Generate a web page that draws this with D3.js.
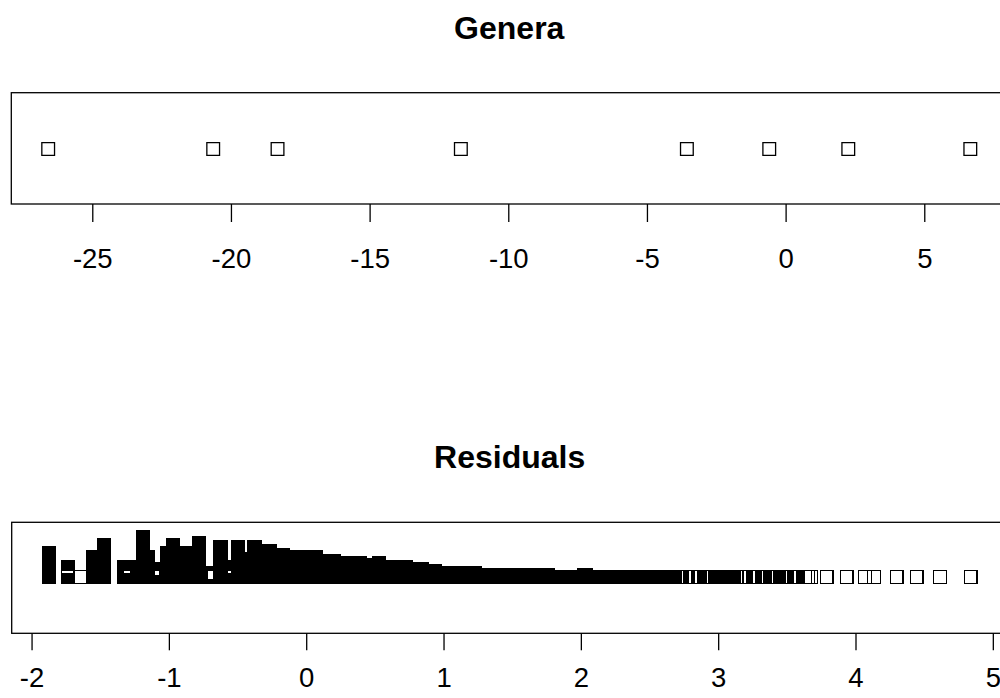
<!DOCTYPE html>
<html><head><meta charset="utf-8">
<script src="https://cdn.jsdelivr.net/npm/d3@7"></script>
<style>body{margin:0;background:#fff} svg{display:block}</style>
</head><body><svg id="chart" width="1000" height="698"></svg>
<script>
// ---------- data ----------
const generaValues = [-26.59, -20.64, -18.32, -11.71, -3.56, -0.59, 2.26, 6.66];
const generaTicks = [-25, -20, -15, -10, -5, 0, 5];
const residTicks = [-2, -1, 0, 1, 2, 3, 4, 5];
// groups of (near-)tied residuals: value range and number of stacked points
const residFrom = [-1.876, -1.736, -1.645, -1.554, -1.476, -1.326, -1.186, -1.153, -1.117, -1.015, -0.968, -0.883, -0.784, -0.676, -0.626, -0.563, -0.497, -0.432, -0.381, -0.274, -0.168, -0.068, 0.068, 0.200, 0.389, 0.527, 0.527, 0.728, 0.845, 0.935, 1.227, 1.760, 2.020,
  2.039, 2.705, 2.758, 2.807, 2.850, 2.899, 2.976, 3.134, 3.158, 3.227, 3.251, 3.287, 3.316, 3.361, 3.380, 3.462, 3.523, 3.555,
  3.634, 3.656, 3.676, 3.790, 3.936, 4.069, 4.135, 4.300, 4.446, 4.615, 4.839];
const residTo   = [-1.876, -1.736, -1.645, -1.554, -1.473, -1.286, -1.186, -1.153, -1.117, -1.015, -0.968, -0.883, -0.784, -0.676, -0.623, -0.563, -0.497, -0.432, -0.376, -0.267, -0.168, 0.068, 0.200, 0.389, 0.527, 0.529, 0.728, 0.845, 0.935, 1.227, 1.760, 2.020, 2.039,
  2.686, 2.739, 2.778, 2.831, 2.865, 2.957, 3.115, 3.140, 3.205, 3.232, 3.268, 3.298, 3.341, 3.361, 3.434, 3.504, 3.536, 3.574,
  3.634, 3.656, 3.676, 3.790, 3.936, 4.069, 4.135, 4.300, 4.446, 4.615, 4.839];
const residCount = [13, 6, 1, 11, 17, 6, 21, 11, 5, 13, 17, 13, 18, 3, 16, 6, 16, 10, 16, 14, 12, 11, 9, 8, 7, 8, 6, 5, 4, 3, 2, 1, 2,
  1, 1, 1, 1, 1, 1, 1, 1, 1, 1, 1, 1, 1, 1, 1, 1, 1, 1,
  1, 1, 1, 1, 1, 1, 1, 1, 1, 1, 1];

// ---------- layout ----------
const svg = d3.select("#chart");
const FONT = "'Liberation Sans', Arial, Helvetica, sans-serif";
const HALF = 6.35;     // half side of the square symbol (stroke centre)
const SW = 1.3;        // symbol line width
const STACK = 2.0;     // vertical offset between stacked points

function rPad(ext) { const r = ext[1] - ext[0]; return [ext[0] - 0.04 * r, ext[1] + 0.04 * r]; }

function panel(cfg) {
  const g = svg.append("g");
  const x = d3.scaleLinear().domain(rPad(cfg.extent)).range([cfg.left, cfg.right]);
  g.append("text").attr("x", (cfg.left + cfg.right) / 2).attr("y", cfg.titleY)
    .attr("text-anchor", "middle").attr("font-family", FONT).attr("font-weight", "bold")
    .attr("font-size", cfg.titleSize).attr("fill", "#000").text(cfg.title);
  const ax = d3.axisBottom(x).tickValues(cfg.ticks).tickSize(cfg.tickLen);
  const axg = g.append("g").attr("transform", `translate(0,${cfg.bottom})`).call(ax);
  axg.select(".domain").remove();
  axg.selectAll(".tick line").attr("stroke", "#000").attr("stroke-width", 1.3);
  axg.selectAll(".tick text").attr("font-family", FONT).attr("font-size", cfg.labelSize)
    .attr("fill", "#000").attr("y", cfg.labelBase - cfg.bottom).attr("dy", 0)
    .text(d => d < 0 ? "-" + Math.abs(d) : String(d));
  cfg.draw(g, x, cfg.yc);
  g.append("rect").attr("x", cfg.left).attr("y", cfg.top)
    .attr("width", cfg.right - cfg.left).attr("height", cfg.bottom - cfg.top)
    .attr("fill", "none").attr("stroke", "#000").attr("stroke-width", 1.3);
}

// union of open squares centred on every value of [from,to], stacked `count` high
function groupPath(a, b, yc, count) {
  const o = HALF + SW / 2, i = HALF - SW / 2, rise = (count - 1) * STACK;
  let p = `M${a - o},${yc - o - rise}H${b + o}V${yc + o}H${a - o}Z`;
  if (b - a < 2 * i && i - rise > -i) {
    p += `M${b - i},${yc - i}H${a + i}V${yc + i - rise}H${b - i}Z`;
  }
  return p;
}

panel({
  title: "Genera", titleY: 39, titleSize: 32,
  extent: d3.extent(generaValues), left: 11.3, right: 1007.2, yc: 149,
  top: 92.7, bottom: 204, ticks: generaTicks, tickLen: 18, labelBase: 268, labelSize: 27.5,
  draw: (g, x, yc) => {
    g.selectAll("path.pt").data(generaValues).join("path").attr("class", "pt")
      .attr("d", v => groupPath(x(v), x(v), yc, 1))
      .attr("fill", "#000").attr("fill-rule", "evenodd");
  }
});

panel({
  title: "Residuals", titleY: 468, titleSize: 32,
  extent: [d3.min(residFrom), d3.max(residTo)], left: 11.7, right: 1007.6, yc: 577,
  top: 522.3, bottom: 633.3, ticks: residTicks, tickLen: 17, labelBase: 687, labelSize: 27.5,
  draw: (g, x, yc) => {
    g.selectAll("path.grp").data(residFrom.map((f, k) => k)).join("path").attr("class", "grp")
      .attr("d", k => groupPath(x(residFrom[k]), x(residTo[k]), yc, residCount[k]))
      .attr("fill", "#000").attr("fill-rule", "evenodd").attr("shape-rendering", "crispEdges");
  }
});
</script></body></html>
